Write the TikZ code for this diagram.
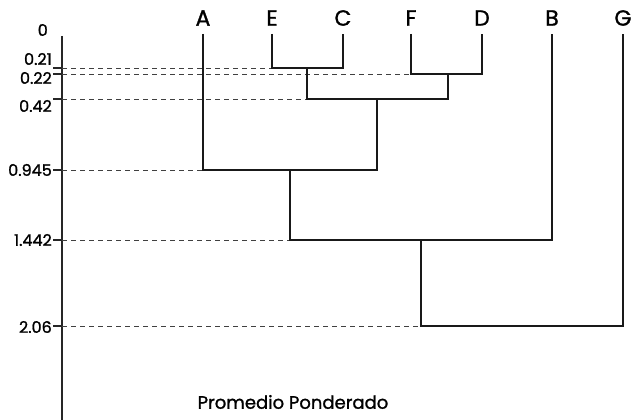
\documentclass[tikz,border=0pt]{standalone}
\usepackage{fontspec}
\setmainfont{Poppins}[FakeBold=1.2]
\begin{document}
\begin{tikzpicture}[x=1pt,y=-1pt,
  tree/.style={line width=1.9pt,draw=black!90},
  guide/.style={line width=0.8pt,draw=black!75,dash pattern=on 5pt off 4pt},
  axisline/.style={line width=1.1pt,draw=black!85},
  leaf/.style={font=\fontsize{22}{22}\selectfont,inner sep=0pt,anchor=center},
  val/.style={font=\fontsize{16}{16}\selectfont,inner sep=0pt,anchor=east},
  caption/.style={font=\fontsize{18}{18}\selectfont,inner sep=0pt}]
\useasboundingbox (0,0) rectangle (633,420);
% leaf labels
\node[leaf] (lA) at (203,18) {A};
\node[leaf] (lE) at (272,18) {E};
\node[leaf] (lC) at (343,18) {C};
\node[leaf] (lF) at (411,18) {F};
\node[leaf] (lD) at (482,18) {D};
\node[leaf] (lB) at (552,18) {B};
\node[leaf] (lG) at (623,18) {G};
% leaf tops
\coordinate (tA) at (203,34);
\coordinate (tE) at (272,34);
\coordinate (tC) at (343,34);
\coordinate (tF) at (411,34);
\coordinate (tD) at (482,34);
\coordinate (tB) at (552,34);
\coordinate (tG) at (623,34);
% axis
\coordinate (ax0) at (62,36);
\coordinate (ax1) at (62,420);
\draw[axisline] (ax0) -- (ax1);
% axis values
\node[val] (v0) at (48,30) {0};
\node[val] (v1) at (52,59) {0.21};
\node[val] (v2) at (52,78) {0.22};
\node[val] (v3) at (52,106) {0.42};
\node[val] (v4) at (52,170) {0.945};
\node[val] (v5) at (52,240) {1.442};
\node[val] (v6) at (52,327) {2.06};
% ticks and guides
\foreach \yy/\xx in {68/272, 74/411, 99/307, 170/203, 240/290, 326/421}{
  \draw[axisline] (53,\yy) -- (62,\yy);
  \draw[guide] (62,\yy) -- (\xx,\yy);
}
% tree
\draw[tree] (tE) |- (272,68) -- (343,68) -- (tC);
\draw[tree] (tF) |- (411,74) -- (482,74) -- (tD);
\draw[tree] (307,68) -- (307,99) -- (448,99) -- (448,74);
\draw[tree] (tA) -- (203,170) -- (377,170) -- (377,99);
\draw[tree] (290,170) -- (290,240) -- (552,240) -- (tB);
\draw[tree] (421,240) -- (421,326) -- (623,326) -- (tG);
% caption
\node[caption] (cap) at (293,402) {Promedio Ponderado};
\end{tikzpicture}
\end{document}
